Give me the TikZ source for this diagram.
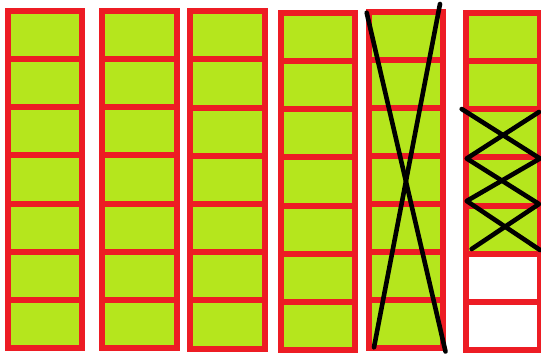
\documentclass[tikz,border=0pt]{standalone}
\definecolor{cellgreen}{RGB}{181,230,29}
\definecolor{gridred}{RGB}{237,28,36}
\begin{document}
\begin{tikzpicture}[x=1pt,y=-1pt,
  cell/.style={draw=gridred,fill=cellgreen,line width=6pt,line join=miter},
  emptycell/.style={draw=gridred,fill=white,line width=6pt,line join=miter},
  strike/.style={draw=black,line width=4.6pt,line cap=round,line join=round}]
\useasboundingbox (0,0) rectangle (541,357);
% columns: left/right/top/bottom (centre lines)
\foreach \xa/\xb/\ya/\yb [count=\c] in {8/82/11/348, 102.3/176.7/11/348, 190.3/264.7/11.3/348.5, 281/354.7/13.3/349.7, 369/442.8/12/348, 465.7/539.7/13.3/349.7}{
  \foreach \i in {0,...,6}{
    \pgfmathsetmacro\ta{\ya+(\yb-\ya)*\i/7}
    \pgfmathsetmacro\tb{\ya+(\yb-\ya)*(\i+1)/7}
    \pgfmathparse{(\c==6 && \i>4) ? 1 : 0}
    \ifnum\pgfmathresult=1
      \path[emptycell] (\xa,\ta) rectangle (\xb,\tb);
    \else
      \path[cell] (\xa,\ta) rectangle (\xb,\tb);
    \fi
  }
}
% big cross over column 5
\coordinate (c5a) at (366.7,12.7);
\coordinate (c5b) at (445.5,351.5);
\coordinate (c5c) at (440,4);
\coordinate (c5d) at (374,347.3);
\draw[strike] (c5a) -- (c5b);
\draw[strike] (c5c) -- (c5d);
% zig-zag crosses over column 6
\coordinate (z1) at (461.7,109);
\coordinate (z2) at (540,158.5);
\coordinate (z3) at (466.7,201);
\coordinate (z4) at (540,250);
\coordinate (w1) at (539,112);
\coordinate (w2) at (466.7,158.5);
\coordinate (w3) at (539,204);
\coordinate (w4) at (471.7,249);
\draw[strike] (z1) -- (z2) -- (z3) -- (z4);
\draw[strike] (w1) -- (w2) -- (w3) -- (w4);
\end{tikzpicture}
\end{document}
